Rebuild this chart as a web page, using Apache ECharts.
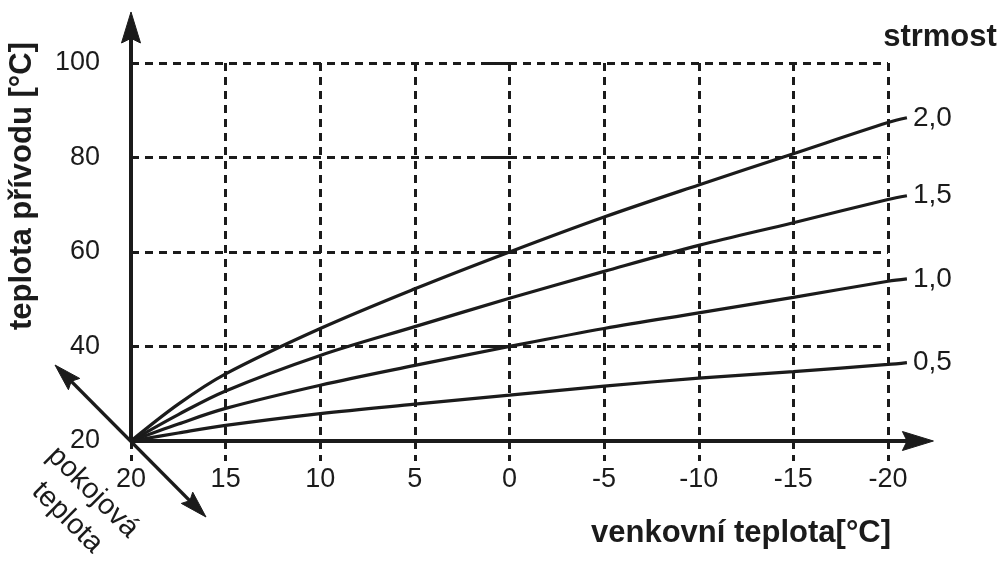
<!DOCTYPE html>
<html><head><meta charset="utf-8">
<script src="https://cdn.jsdelivr.net/npm/echarts@6/dist/echarts.min.js"></script>
<style>html,body{margin:0;padding:0;background:#fff}#c{width:1001px;height:561px}</style>
</head><body><div id="c"></div>
<script>
// outdoor temperature (x) sample points, last point runs slightly past -20
const outdoorTemps = [20, 17.5, 15, 10, 5, 0, -5, -10, -15, -20, -21];
const slopeNames = ['2,0', '1,5', '1,0', '0,5'];
const supply20 = [20, 27.8, 34.2, 43.8, 52.2, 60.0, 67.4, 74.2, 80.8, 87.4, 88.4];
const supply15 = [20, 25.6, 30.6, 38.1, 44.2, 50.2, 55.9, 61.4, 66.2, 71.1, 71.9];
const supply10 = [20, 23.6, 26.9, 31.8, 36.0, 40.0, 43.8, 47.1, 50.4, 53.8, 54.3];
const supply05 = [20, 21.7, 23.3, 25.8, 27.8, 29.7, 31.6, 33.3, 34.7, 36.2, 36.6];
const xTitle = 'venkovní teplota[°C]';
const yTitle = 'teplota přívodu [°C]';
const legendTitle = 'strmost';
const roomTitle = 'pokojová\nteplota';

const INK = '#1b1b1b';
const FONT = '"Liberation Sans", Arial, Helvetica, sans-serif';
const chart = echarts.init(document.getElementById('c'), null, {renderer: 'canvas'});

// plot geometry: grid 0 holds the dashed grid (20..-20); grid 1 has the same scale but
// extends a little further right so the curves can run just past -20 as in the original
const G = {left: 131, top: 63, width: 757, height: 378};
const X_MIN = -20, X_MAX = 20, X_EXT_MIN = -25;

const curves = [supply20, supply15, supply10, supply05];
const series = curves.map((vals, k) => ({
  name: slopeNames[k],
  type: 'line',
  xAxisIndex: 1, yAxisIndex: 1,
  data: outdoorTemps.map((t, i) => [t, vals[i]]),
  smooth: 0.35,
  showSymbol: false,
  clip: false,
  silent: true,
  lineStyle: {color: INK, width: 3.2},
  endLabel: {show: true, formatter: '{a}', color: INK, fontSize: 28, fontFamily: FONT, align: 'left', distance: -6}
}));

const dash = {type: [8, 6], width: 3, color: INK};
chart.setOption({
  animation: false,
  backgroundColor: '#fff',
  grid: [
    {left: G.left, top: G.top, width: G.width, height: G.height},
    {left: G.left, top: G.top, width: G.width * (X_MAX - X_EXT_MIN) / (X_MAX - X_MIN), height: G.height}
  ],
  xAxis: [{
    type: 'value', gridIndex: 0, min: X_MIN, max: X_MAX, interval: 5, inverse: true,
    axisLine: {show: false},
    axisTick: {show: true, length: 20, lineStyle: dash},
    axisLabel: {margin: 25, fontSize: 27, color: INK, fontFamily: FONT},
    splitLine: {show: true, lineStyle: dash}
  }, {
    type: 'value', gridIndex: 1, min: X_EXT_MIN, max: X_MAX, interval: 5, inverse: true, show: false
  }],
  yAxis: [{
    type: 'value', gridIndex: 0, min: 20, max: 100, interval: 20,
    axisLine: {show: false},
    axisTick: {show: true, length: 21, lineStyle: dash},
    axisLabel: {margin: 31, fontSize: 27, color: INK, fontFamily: FONT},
    splitLine: {show: true, lineStyle: dash}
  }, {
    type: 'value', gridIndex: 1, min: 20, max: 100, interval: 20, show: false
  }],
  series: series
});

function px(x, y) { return chart.convertToPixel({gridIndex: 1}, [x, y]); }
function arrowHead(tip, from, len, hw) {
  const dx = tip[0] - from[0], dy = tip[1] - from[1];
  const d = Math.hypot(dx, dy), ux = dx / d, uy = dy / d;
  const bx = tip[0] - ux * len, by = tip[1] - uy * len;
  return {type: 'polygon', z: 10, shape: {points: [tip, [bx - uy * hw, by + ux * hw], [tip[0] - ux * len * 0.85, tip[1] - uy * len * 0.85], [bx + uy * hw, by - ux * hw]]},
    style: {fill: INK, stroke: INK, lineWidth: 1}};
}
const o = px(20, 20);
const xTip = px(-22.4, 20);
const yTip = px(20, 110.8);
const dA = [o[0] - 76, o[1] - 76], dB = [o[0] + 75, o[1] + 76];
const g = [
  {type: 'line', z: 9, shape: {x1: o[0], y1: o[1], x2: xTip[0] - 20, y2: xTip[1]}, style: {stroke: INK, lineWidth: 4}},
  arrowHead(xTip, o, 31, 9.5),
  {type: 'line', z: 9, shape: {x1: o[0], y1: o[1], x2: yTip[0], y2: yTip[1] + 20}, style: {stroke: INK, lineWidth: 4}},
  arrowHead(yTip, o, 31, 9.5),
  {type: 'line', z: 9, shape: {x1: dA[0] + 10, y1: dA[1] + 10, x2: dB[0] - 10, y2: dB[1] - 10}, style: {stroke: INK, lineWidth: 3.2}},
  arrowHead(dA, o, 27, 8),
  arrowHead(dB, o, 27, 8),
  {type: 'text', x: 940, y: 37, style: {text: legendTitle, font: 'bold 31px ' + FONT, fill: INK, align: 'center', verticalAlign: 'middle'}},
  {type: 'text', x: 741, y: 533, style: {text: xTitle, font: 'bold 31px ' + FONT, fill: INK, align: 'center', verticalAlign: 'middle'}},
  {type: 'text', x: 22, y: 186, rotation: Math.PI / 2, style: {text: yTitle, font: 'bold 31px ' + FONT, fill: INK, align: 'center', verticalAlign: 'middle'}},
  {type: 'text', x: 80, y: 505, rotation: -Math.PI / 4, style: {text: roomTitle, font: '29px ' + FONT, fill: INK, align: 'center', verticalAlign: 'middle', lineHeight: 36}}
];
chart.setOption({graphic: g});
</script>
</body></html>
